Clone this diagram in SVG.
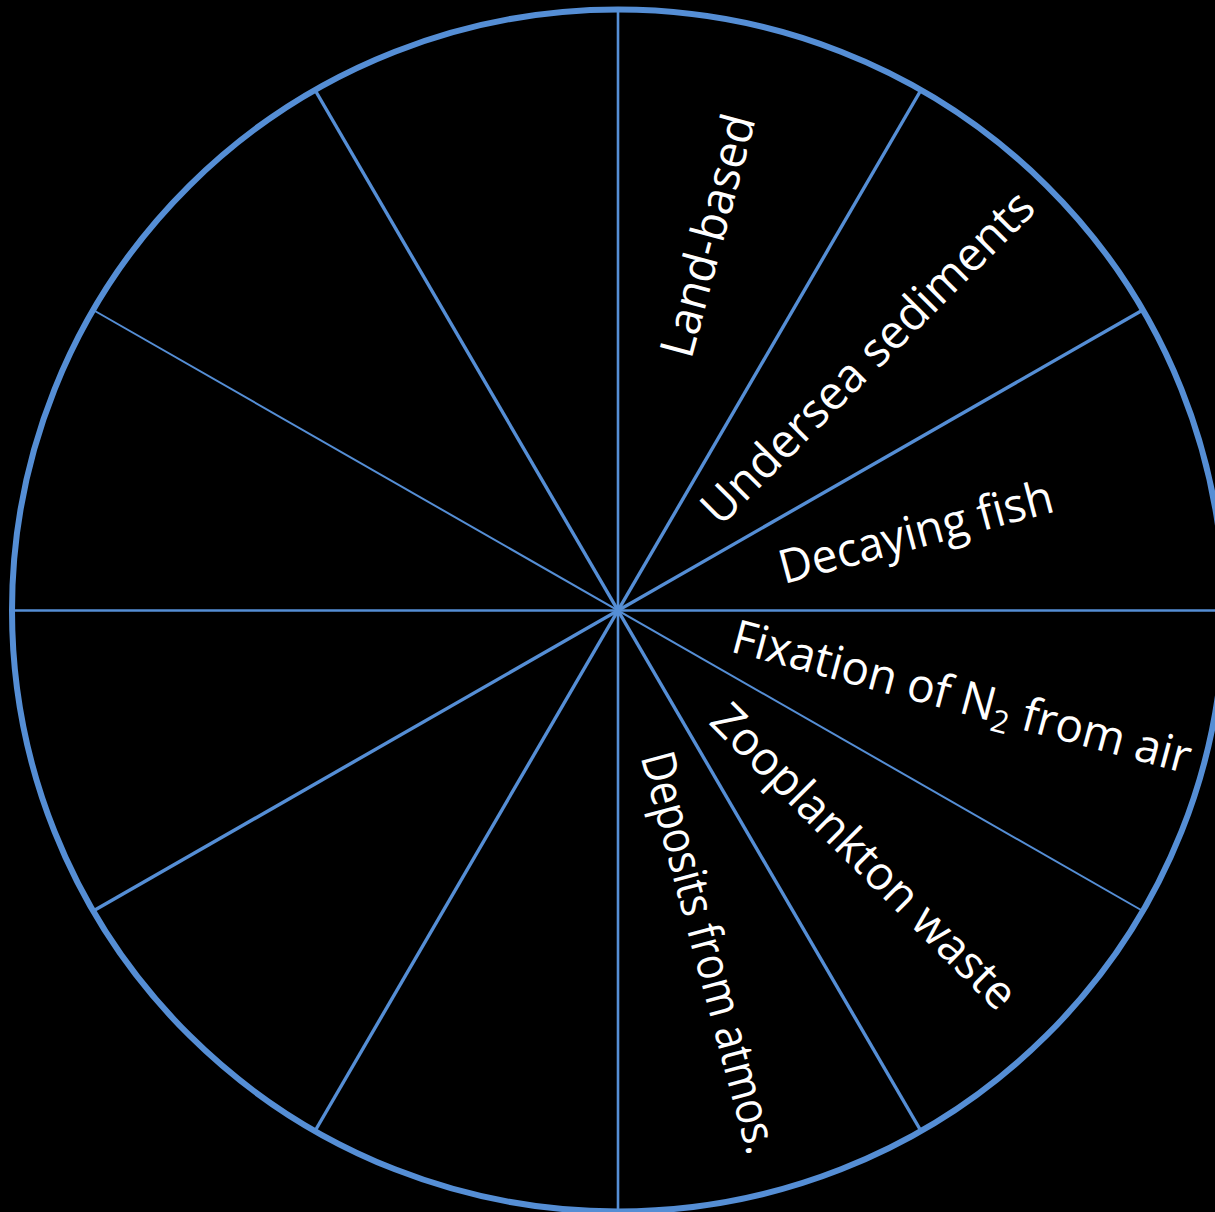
<svg xmlns="http://www.w3.org/2000/svg" width="1215" height="1212" viewBox="0 0 1215 1212">
<style>
.spoke{stroke:#558ed5;fill:none;stroke-linecap:butt}
.lbl{fill:#ffffff;font-family:"Open Sans","Noto Sans","Liberation Sans",sans-serif;font-size:47px}
</style>
<rect x="0" y="0" width="1215" height="1212" fill="#000000"/>
<g id="connectors">
<line class="spoke" x1="618" y1="9.5" x2="618" y2="1212" stroke-width="2.6"/>
<line class="spoke" x1="12" y1="610.5" x2="1224" y2="610.5" stroke-width="2.6"/>
<line class="spoke" x1="921" y1="90" x2="315" y2="1131" stroke-width="3.4"/>
<line class="spoke" x1="1142.8" y1="310" x2="93.2" y2="911" stroke-width="3.4"/>
<line class="spoke" x1="1142.8" y1="911" x2="93.2" y2="310" stroke-width="2"/>
<line class="spoke" x1="921" y1="1131" x2="315" y2="90" stroke-width="3.4"/>
</g>
<g id="wheel">
<ellipse cx="618" cy="610.5" rx="606" ry="601" fill="none" stroke="#558ed5" stroke-width="6"/>
</g>
<g id="label-land-based" transform="rotate(-75 618 610.5)">
<text class="lbl" x="879" y="616.5" textLength="249" lengthAdjust="spacingAndGlyphs">Land-based</text>
</g>
<g id="label-undersea-sediments" transform="rotate(-45 618 610.5)">
<text class="lbl" x="749" y="624" textLength="449" lengthAdjust="spacingAndGlyphs">Undersea sediments</text>
</g>
<g id="label-decaying-fish" transform="rotate(-15 618 610.5)">
<text class="lbl" x="785" y="628" textLength="282" lengthAdjust="spacingAndGlyphs">Decaying fish</text>
</g>
<g id="label-fixation" transform="rotate(15 618 610.5)">
<text class="lbl" x="736" y="621" textLength="473" lengthAdjust="spacingAndGlyphs">Fixation of N<tspan font-size="31" dy="9">2</tspan><tspan dy="-9"> from air</tspan></text>
</g>
<g id="label-zooplankton-waste" transform="rotate(45 618 610.5)">
<text class="lbl" x="761" y="626.5" textLength="410" lengthAdjust="spacingAndGlyphs">Zooplankton waste</text>
</g>
<g id="label-deposits" transform="rotate(75 618 610.5)">
<text class="lbl" x="765" y="626.5" textLength="414" lengthAdjust="spacingAndGlyphs">Deposits from atmos.</text>
</g>
</svg>
